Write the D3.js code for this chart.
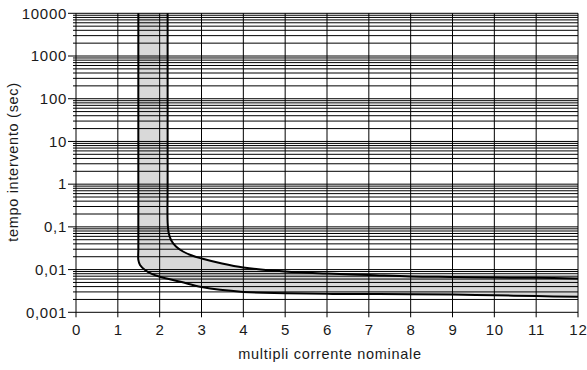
<!DOCTYPE html>
<html lang="it">
<head>
  <meta charset="utf-8">
  <title>Curva di intervento</title>
  <script src="https://cdnjs.cloudflare.com/ajax/libs/d3/7.8.5/d3.min.js"></script>
  <style>
    body { margin: 0; background: #fff; }
    svg { display: block; }
    text {
      font-family: "Liberation Sans", Arial, Helvetica, sans-serif;
      fill: #1a1a1a;
      letter-spacing: 0.7px;
    }
    .grid line { stroke: #000; stroke-width: 1; }
    .band { fill: #d9d9d9; stroke: none; }
    .curve { fill: none; stroke: #000; stroke-width: 2; }
  </style>
</head>
<body>
<svg id="chart"></svg>
<script>
  // x axis: multiples of rated current
  var xTicks = [0, 1, 2, 3, 4, 5, 6, 7, 8, 9, 10, 11, 12];

  // y axis: trip time (s), log scale
  var yTicks = [0.001, 0.01, 0.1, 1, 10, 100, 1000, 10000];
  var yTickLabels = ["0,001", "0,01", "0,1", "1", "10", "100", "1000", "10000"];

  // lower (fast) boundary of the band
  var lowerX = [1.49, 1.49, 1.49, 1.49, 1.53, 1.65, 1.81, 2.0, 2.5, 3, 4, 5, 6, 7, 8, 9, 10, 11, 12];
  var lowerT = [10000, 1, 0.03, 0.0168, 0.0128, 0.0098, 0.0079, 0.0068, 0.0052, 0.0039, 0.0030, 0.0028, 0.0027, 0.0027, 0.00265, 0.0026, 0.0025, 0.0024, 0.0023];

  // upper (slow) boundary of the band
  var upperX = [2.19, 2.19, 2.19, 2.211, 2.271, 2.39, 2.558, 2.773, 3.005, 3.49, 4, 5, 6, 7, 8, 9, 10, 11, 12];
  var upperT = [10000, 1, 0.13, 0.0758, 0.0492, 0.0347, 0.0265, 0.0213, 0.0182, 0.0139, 0.0112, 0.0090, 0.0081, 0.0075, 0.0069, 0.0067, 0.0065, 0.0064, 0.0062];

  var W = 587, H = 370;
  var margin = { top: 13.3, right: 9, bottom: 57.7, left: 76 };
  var width = W - margin.left - margin.right,
      height = H - margin.top - margin.bottom;

  var svg = d3.select("#chart").attr("width", W).attr("height", H);
  var g = svg.append("g").attr("transform", "translate(" + margin.left + "," + margin.top + ")");

  var x = d3.scaleLinear().domain([0, 12]).range([0, width]);
  var y = d3.scaleLog().domain([0.001, 10000]).range([height, 0]);

  // band between the two curves
  var lowerPts = lowerX.map(function (v, i) { return [v, lowerT[i]]; });
  var upperPts = upperX.map(function (v, i) { return [v, upperT[i]]; });

  var line = d3.line()
    .x(function (d) { return x(d[0]); })
    .y(function (d) { return y(d[1]); })
    .curve(d3.curveCatmullRom.alpha(0.5));

  var bandPath = line(lowerPts) + "L" + line(upperPts.slice().reverse()).slice(1) + "Z";
  g.append("path").attr("class", "band").attr("d", bandPath);

  // horizontal grid: every 1..9 of each decade
  var minor = [];
  for (var e = -3; e < 4; e++) {
    for (var k = 1; k < 10; k++) minor.push(k * Math.pow(10, e));
  }
  minor.push(10000);

  var grid = g.append("g").attr("class", "grid");
  grid.selectAll(".h").data(minor).enter().append("line")
    .attr("x1", -3).attr("x2", width)
    .attr("y1", function (d) { return y(d); })
    .attr("y2", function (d) { return y(d); });

  // decade ticks on the left
  grid.selectAll(".yt").data(yTicks).enter().append("line")
    .attr("x1", -8).attr("x2", -3)
    .attr("y1", function (d) { return y(d); })
    .attr("y2", function (d) { return y(d); });

  // vertical grid + ticks
  grid.selectAll(".v").data(xTicks).enter().append("line")
    .attr("x1", function (d) { return x(d); })
    .attr("x2", function (d) { return x(d); })
    .attr("y1", 0).attr("y2", height + 5);

  // curves
  g.append("path").attr("class", "curve").attr("d", line(lowerPts));
  g.append("path").attr("class", "curve").attr("d", line(upperPts));

  // tick labels
  g.selectAll(".ylab").data(yTicks).enter().append("text")
    .attr("x", -9)
    .attr("y", function (d) { return y(d); })
    .attr("dy", "0.35em")
    .attr("text-anchor", "end")
    .style("font-size", "15px")
    .text(function (d, i) { return yTickLabels[i]; });

  g.selectAll(".xlab").data(xTicks).enter().append("text")
    .attr("x", function (d) { return x(d) + 0.4; })
    .attr("y", height + 23)
    .attr("text-anchor", "middle")
    .style("font-size", "15px")
    .text(function (d) { return d; });

  // axis titles
  svg.append("text")
    .attr("x", 330).attr("y", 359)
    .attr("text-anchor", "middle")
    .style("font-size", "14.5px")
    .text("multipli corrente nominale");

  svg.append("text")
    .attr("transform", "translate(17.5,162) rotate(-90)")
    .attr("text-anchor", "middle")
    .style("font-size", "14.5px")
    .text("tempo intervento (sec)");
</script>
</body>
</html>
